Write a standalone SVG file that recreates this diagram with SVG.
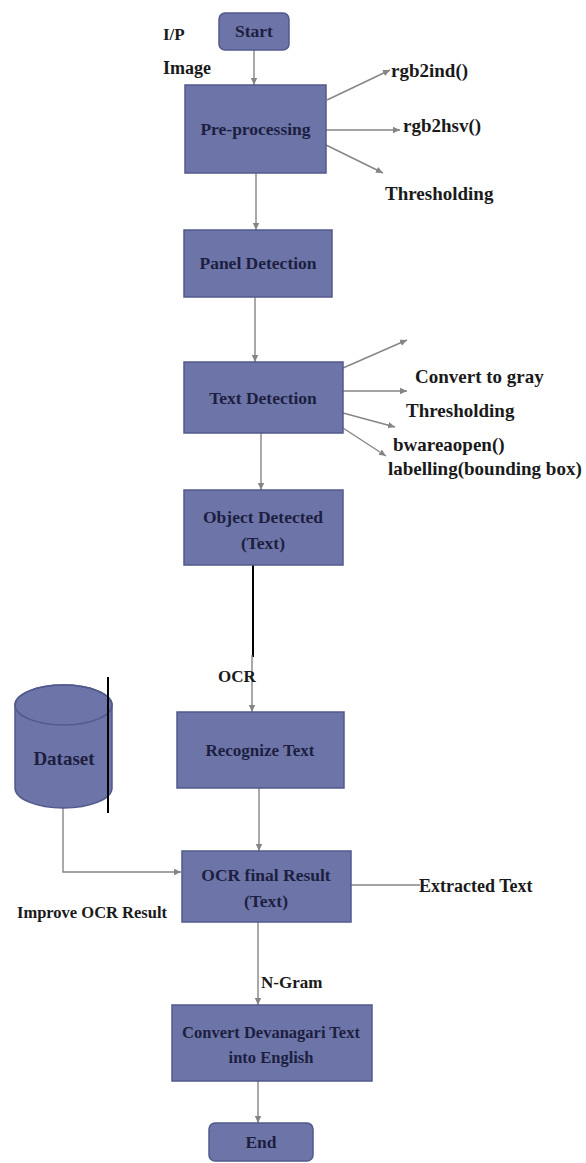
<svg xmlns="http://www.w3.org/2000/svg" width="586" height="1163" viewBox="0 0 586 1163">
<style>
.box{fill:#6d74a8;stroke:#525a8c;stroke-width:1.5}
.bt{font-family:'Liberation Serif','Times New Roman',serif;font-weight:bold;font-size:17.5px;fill:#1c1f40;text-anchor:middle}
.lb{font-family:'Liberation Serif','Times New Roman',serif;font-weight:bold;font-size:18px;fill:#1a1a1a}
.s19{font-size:19px}
.s17{font-size:17px}
.s16{font-size:16.5px}
.ln{stroke:#858585;stroke-width:1.4;fill:none}
</style>
<defs>
<marker id="ah" markerWidth="8" markerHeight="8" refX="7" refY="4" orient="auto" markerUnits="userSpaceOnUse">
<path d="M0,0.8 L7,4 L0,7.2 Z" fill="#858585"/>
</marker>
</defs>
<rect width="586" height="1163" fill="#ffffff"/>
<g id="connectors">
<line class="ln" x1="254" y1="50" x2="254" y2="85" marker-end="url(#ah)"/>
<line class="ln" x1="327" y1="100" x2="390" y2="70" marker-end="url(#ah)"/>
<line class="ln" x1="326" y1="130" x2="400" y2="130" marker-end="url(#ah)"/>
<line class="ln" x1="326" y1="145" x2="383" y2="173" marker-end="url(#ah)"/>
<line class="ln" x1="256" y1="173" x2="256" y2="230" marker-end="url(#ah)"/>
<line class="ln" x1="255" y1="297" x2="255" y2="362" marker-end="url(#ah)"/>
<line class="ln" x1="343" y1="368" x2="407" y2="340" marker-end="url(#ah)"/>
<line class="ln" x1="343" y1="391" x2="407" y2="391" marker-end="url(#ah)"/>
<line class="ln" x1="343" y1="413" x2="395" y2="427" marker-end="url(#ah)"/>
<line class="ln" x1="343" y1="428" x2="386" y2="456" marker-end="url(#ah)"/>
<line class="ln" x1="261" y1="433" x2="261" y2="490" marker-end="url(#ah)"/>
<line x1="253" y1="565" x2="253" y2="657" stroke="#000" stroke-width="2"/>
<line class="ln" x1="252" y1="655" x2="252" y2="712" marker-end="url(#ah)"/>
<line class="ln" x1="259" y1="788" x2="259" y2="851" marker-end="url(#ah)"/>
<polyline class="ln" points="63,808 63,872 181,872" marker-end="url(#ah)"/>
<line class="ln" x1="351" y1="885" x2="420" y2="885"/>
<line class="ln" x1="258" y1="922" x2="258" y2="1005" marker-end="url(#ah)"/>
<line class="ln" x1="258" y1="1081" x2="258" y2="1123" marker-end="url(#ah)"/>
</g>
<g id="start"><rect class="box" x="219" y="13" width="70" height="37" rx="6"/><text class="bt" x="254" y="37">Start</text></g>
<g id="preprocessing"><rect class="box" x="185" y="85" width="141" height="88"/><text class="bt" x="255.5" y="135">Pre-processing</text></g>
<g id="panel"><rect class="box" x="184" y="230" width="148" height="67"/><text class="bt" x="258" y="269">Panel Detection</text></g>
<g id="textdetection"><rect class="box" x="184" y="362" width="159" height="71"/><text class="bt" x="263" y="404">Text Detection</text></g>
<g id="object"><rect class="box" x="184" y="490" width="159" height="75"/><text class="bt" x="263" y="523">Object Detected</text><text class="bt" x="263" y="549">(Text)</text></g>
<g id="recognize"><rect class="box" x="177" y="712" width="167" height="76"/><text class="bt s17" x="260" y="756">Recognize Text</text></g>
<g id="dataset">
<path class="box" d="M15,705 A48.5,20 0 0 1 112,705 L112,788 A48.5,20 0 0 1 15,788 Z"/>
<ellipse cx="63.5" cy="705" rx="48.5" ry="20" fill="none" stroke="#525a8c" stroke-width="1.5"/>
<text class="bt s19" x="64" y="765">Dataset</text>
<line x1="108" y1="677" x2="108" y2="813" stroke="#000" stroke-width="2"/>
</g>
<g id="ocrfinal"><rect class="box" x="182" y="851" width="169" height="71"/><text class="bt" x="266" y="881">OCR final Result</text><text class="bt" x="266" y="907">(Text)</text></g>
<g id="convert"><rect class="box" x="172" y="1005" width="200" height="76"/><text class="bt s16" x="271" y="1038">Convert Devanagari Text</text><text class="bt s16" x="271" y="1063">into English</text></g>
<g id="end"><rect class="box" x="209" y="1123" width="104" height="38" rx="6"/><text class="bt" x="261" y="1148">End</text></g>
<g id="labels">
<text class="lb s17" x="163" y="40">I/P</text>
<text class="lb" x="163" y="74">Image</text>
<text class="lb s19" x="391" y="77">rgb2ind()</text>
<text class="lb s19" x="403" y="132">rgb2hsv()</text>
<text class="lb s19" x="385" y="200">Thresholding</text>
<text class="lb s19" x="415" y="383">Convert to gray</text>
<text class="lb s19" x="406" y="417">Thresholding</text>
<text class="lb s19" x="393" y="451">bwareaopen()</text>
<text class="lb s19" x="388" y="475">labelling(bounding box)</text>
<text class="lb s17" x="218" y="682">OCR</text>
<text class="lb s16" x="17" y="918">Improve OCR Result</text>
<text class="lb" x="419" y="892">Extracted Text</text>
<text class="lb s17" x="261" y="988">N-Gram</text>
</g>
</svg>
